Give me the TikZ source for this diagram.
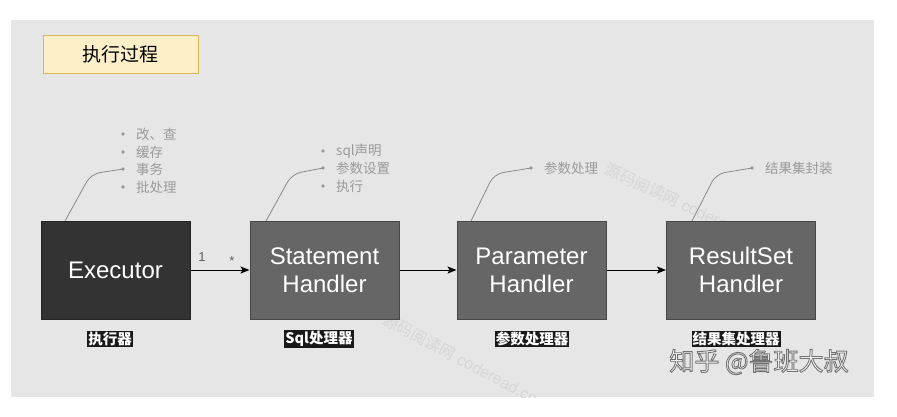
\documentclass[tikz,border=0pt]{standalone}
\usepackage{fontspec}
\setmainfont{Liberation Sans}
\newfontfamily\cjk{Noto Sans CJK SC}
\usetikzlibrary{arrows.meta}
\definecolor{panelgray}{HTML}{E6E6E6}
\definecolor{titlefill}{HTML}{FDF0C8}
\definecolor{titleline}{HTML}{D6B656}
\definecolor{darkbox}{HTML}{333333}
\definecolor{midbox}{HTML}{666666}
\definecolor{notegray}{HTML}{9A9A9A}
\definecolor{curvegray}{HTML}{8A8A8A}
\definecolor{wmgray}{HTML}{D6D6D6}
\newcommand{\outlinetext}[1]{{\color{white}\special{pdf:literal direct 2 Tr 0.9 w 0.45 G}#1\special{pdf:literal direct 0 Tr}}}
\tikzset{
  procbox/.style={draw=#1!70!black, fill=#1, line width=1pt, minimum width=149pt, minimum height=98pt, inner sep=0pt, text=white, align=center, font=\fontsize{24}{28}\selectfont},
  tag/.style={fill=black!90, text=white, inner sep=1pt, font=\cjk\bfseries\fontsize{14.5}{16}\selectfont},
  note/.style={anchor=west, text=notegray, inner sep=0pt, font=\cjk\fontsize{13.5}{16}\selectfont},
  dot/.style={circle, fill=notegray, inner sep=0pt, minimum size=3.6pt},
  callout/.style={draw=curvegray, line width=0.8pt, rounded corners=9pt},
  flow/.style={draw=black, line width=1pt, -{Stealth[length=9pt,width=7pt,inset=2pt]}},
  mult/.style={text=darkbox!80, inner sep=0pt, font=\fontsize{13}{15}\selectfont},
  wm/.style={text=wmgray, inner sep=0pt, anchor=west, font=\fontsize{16}{18}\selectfont}
}
\begin{document}
\begin{tikzpicture}[x=1pt,y=-1pt]
\useasboundingbox (0,0) rectangle (897,416);
\fill[white] (0,0) rectangle (897,416);
\fill[panelgray] (11,20) rectangle (874,397);

% faint diagonal watermarks
\begin{scope}
\clip (11,20) rectangle (874,397);
\node[wm, rotate=-28] (wmone) at (384,318) {{\cjk 源码阅读网} coderead.cn};
\node[wm, rotate=-25] (wmtwo) at (606,168) {{\cjk 源码阅读网} coderead.cn};
\end{scope}

% title
\node[draw=titleline, fill=titlefill, line width=1pt, minimum width=155pt, minimum height=38pt, font=\cjk\fontsize{19}{22}\selectfont] (title) at (120.5,54) {执行过程};

% boxes
\node[procbox=darkbox] (exec) at (115.5,270) {Executor};
\node[procbox=midbox] (stmt) at (324.5,270) {Statement\\Handler};
\node[procbox=midbox] (param) at (531.5,270) {Parameter\\Handler};
\node[procbox=midbox] (rs) at (741,270) {ResultSet\\Handler};

% arrows
\draw[flow] (exec.east) -- (stmt.west);
\draw[flow] (stmt.east) -- (param.west);
\draw[flow] (param.east) -- (rs.west);
\node[mult] (one) at (202,257) {1};
\node[mult] (star) at (232,261) {*};

% tags
\node[tag] (tagexec) at (110,339) {执行器};
\node[tag] (tagstmt) at (319,339) {Sql处理器};
\node[tag] (tagparam) at (532,339) {参数处理器};
\node[tag] (tagrs) at (736,339) {结果集处理器};

% notes Executor
\node[dot] (ea) at (123,134) {};
\node[dot] (eb) at (123,152) {};
\node[dot] (ec) at (123,169) {};
\node[dot] (ed) at (123,187) {};
\node[note] (eta) at (136,134) {改、查};
\node[note] (etb) at (136,152) {缓存};
\node[note] (etc) at (136,169) {事务};
\node[note] (etd) at (136,187) {批处理};
\coordinate (exectop) at (65,221);
\draw[callout] (exectop) -- (91,174) -- (ec.center);

% notes Statement
\node[dot] (sa) at (323,151) {};
\node[dot] (sb) at (323,168) {};
\node[dot] (sc) at (323,186) {};
\node[note] (sta) at (336,151) {sql声明};
\node[note] (stb) at (336,168) {参数设置};
\node[note] (stc) at (336,186) {执行};
\coordinate (stmttop) at (266,221);
\draw[callout] (stmttop) -- (292,174) -- (sb.center);

% notes Parameter
\node[dot] (pa) at (531,168) {};
\node[note] (pta) at (544,168) {参数处理};
\coordinate (paramtop) at (471,221);
\draw[callout] (paramtop) -- (494,174) -- (pa.center);

% notes ResultSet
\node[dot] (ra) at (752,168) {};
\node[note] (rta) at (765,168) {结果集封装};
\coordinate (rstop) at (692,221);
\draw[callout] (rstop) -- (716,174) -- (ra.center);

% zhihu watermark
\node[inner sep=0pt, font=\cjk\fontsize{25}{28}\selectfont] (zh) at (759,362) {\outlinetext{知乎 @鲁班大叔}};
\end{tikzpicture}
\end{document}
